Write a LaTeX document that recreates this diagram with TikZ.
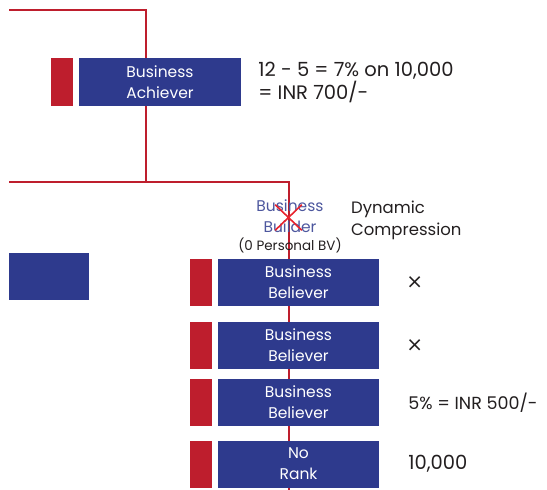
\documentclass[tikz,border=0pt]{standalone}
\usepackage{fontspec}
\setmainfont{Poppins}
\newfontfamily\markfont{DejaVu Sans}
\usetikzlibrary{positioning, shapes.misc}

\definecolor{rankblue}{RGB}{46,58,141}
\definecolor{rankred}{RGB}{190,30,45}
\definecolor{strikered}{RGB}{232,35,45}
\definecolor{inktext}{RGB}{35,31,32}

\tikzset{
	rank/.style={fill=rankblue, text=white, align=center, inner sep=0pt,
		minimum width=161pt, minimum height=47pt, font=\fontsize{15.5}{21}\selectfont},
	flag/.style={fill=rankred, inner sep=0pt, minimum width=22pt, minimum height=47pt},
	note/.style={text=inktext, align=left, inner sep=0pt, font=\fontsize{19.5}{23}\selectfont},
	link/.style={draw=rankred, line width=2pt},
}

\begin{document}
\begin{tikzpicture}[x=1pt, y=-1pt]
		\useasboundingbox (0,0) rectangle (547,490);
		
		\coordinate (TopLeft)    at (9,10);
		\coordinate (TopCorner)  at (146,10);
		\coordinate (Join)       at (146,182);
		\coordinate (MidLeft)    at (9,182);
		\coordinate (MidCorner)  at (289,182);
		\coordinate (Bottom)     at (289,490);
		
		\draw[link] (TopLeft) -- (TopCorner) -- (Join);
		\draw[link] (MidLeft) -- (MidCorner) -- (Bottom);
		
		\node[rank, minimum width=162pt, minimum height=48pt]	(Achiever) at (160,82) {Business\\Achiever};
		\node[flag, minimum height=48pt, left=6pt of Achiever]	(AchieverFlag) {};
		\node[note, anchor=west, right=17pt of Achiever]	(AchieverNote) {12 - 5 = 7\% on 10,000\\= INR 700/-};
		
		\node[rank, minimum width=80pt]	(Side) at (49,276.5) {};
		
		\node[align=center, inner sep=0pt, text=rankblue!85!white, font=\fontsize{15.5}{21}\selectfont]	(Builder) at (290,226)
			{Business\\Builder\\[-3pt]{\color{inktext}\fontsize{13.5}{15}\selectfont(0 Personal BV)}};
		\node[cross out, draw=strikered, line width=1.6pt, minimum width=25pt, minimum height=24pt, inner sep=0pt]	(Strike) at (288.5,217.5) {};
		\node[note, anchor=west, font=\fontsize{16.5}{22}\selectfont]	(Compression) at (351,220) {Dynamic\\Compression};
		
		\node[rank]	(BelieverA) at (298.5,282.5) {Business\\Believer};
		\node[rank]	(BelieverB) at (298.5,345.5) {Business\\Believer};
		\node[rank]	(BelieverC) at (298.5,402.5) {Business\\Believer};
		\node[rank]	(NoRank) at (298.5,464) {No\\Rank};
		
		\node[flag, left=6pt of BelieverA]	(FlagA) {};
		\node[flag, left=6pt of BelieverB]	(FlagB) {};
		\node[flag, left=6pt of BelieverC]	(FlagC) {};
		\node[flag, left=6pt of NoRank]	(FlagD) {};
		
		\node[note, right=27pt of BelieverA, font=\markfont\fontsize{20}{20}\selectfont]	(NoteA) {×};
		\node[note, right=27pt of BelieverB, font=\markfont\fontsize{20}{20}\selectfont]	(NoteB) {×};
		\node[note, right=29pt of BelieverC, font=\fontsize{17.5}{23}\selectfont]	(NoteC) {5\% = INR 500/-};
		\node[note, right=29pt of NoRank]	(NoteD) {10,000};
	\end{tikzpicture}
\end{document}
